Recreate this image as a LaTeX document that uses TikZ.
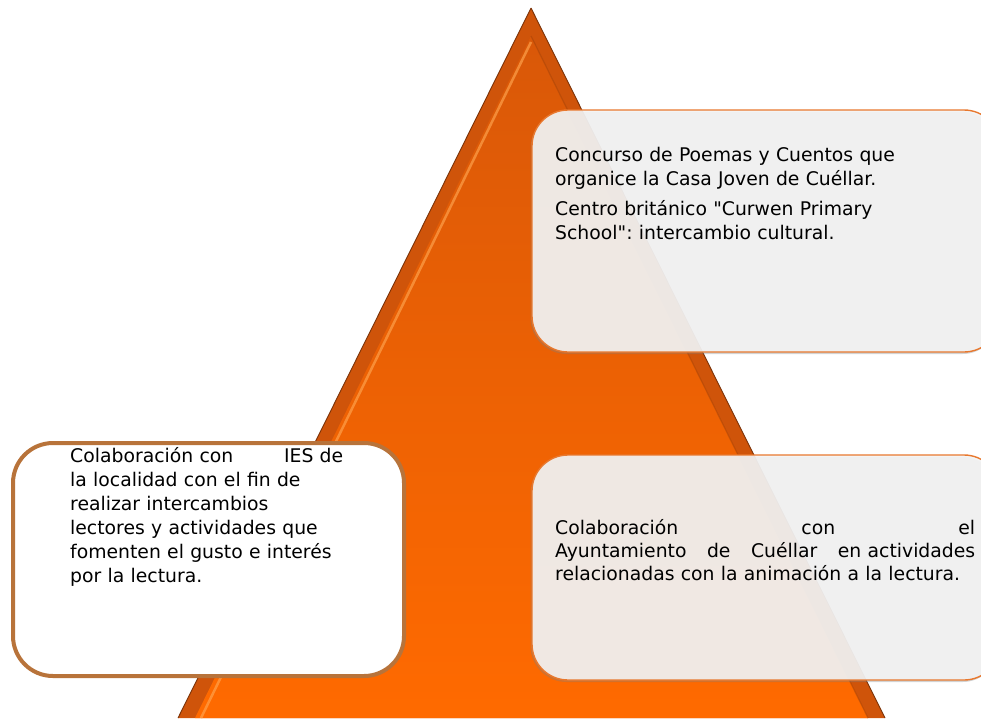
\documentclass[tikz,border=0pt]{standalone}
\usepackage{fontspec}
\newfontfamily\boxfont{DejaVu Sans}
\usetikzlibrary{shadows}
\definecolor{triedge}{HTML}{7A3208}
\definecolor{triband}{HTML}{CF540A}
\definecolor{tritop}{HTML}{D95808}
\definecolor{tribot}{HTML}{FF6A00}
\definecolor{trihi}{HTML}{FFA550}
\definecolor{boxfill}{HTML}{F3F3F3}
\definecolor{boxline}{HTML}{E8782E}
\definecolor{leftline}{HTML}{B8733A}
\frenchspacing
\tikzset{
  glassbox/.style={draw=boxline, line width=1.4pt, fill=boxfill, fill opacity=0.92,
    rounded corners=36pt, drop shadow={opacity=0.35, shadow xshift=-1.5pt, shadow yshift=-2pt}},
  whitebox/.style={draw=leftline, line width=4pt, fill=white, rounded corners=40pt},
  boxtext/.style={anchor=north west, inner sep=0pt, align=left, text=black,
    font=\boxfont\frenchspacing\fontsize{18.8}{24}\selectfont},
}
\begin{document}
\begin{tikzpicture}[x=1pt,y=-1pt]
\useasboundingbox (0,0) rectangle (981,718);
\clip (0,0) rectangle (981,718);
% pyramid
\coordinate (apex) at (531,8);
\coordinate (bl) at (178,718);
\coordinate (br) at (885,718);
\coordinate (iapex) at (531,36);
\coordinate (ibl) at (195,718);
\coordinate (ibr) at (868,718);
\fill[triband] (apex) -- (bl) -- (br) -- cycle;
\shade[top color=tritop, bottom color=tribot] (iapex) -- (ibl) -- (ibr) -- cycle;
\draw[trihi, line width=2.5pt, opacity=0.65] (531,42) -- (201,718);
\draw[triband!80!black, line width=1.2pt, opacity=0.5] (iapex) -- (ibr);
\draw[triedge, line width=0.9pt] (apex) -- (bl) (apex) -- (br);
% boxes
\path[glassbox] (532,110) rectangle (1000,352);
\node (topbox) at (766,231) {};
\path[glassbox] (532,455) rectangle (1000,680);
\node (botbox) at (766,567) {};
\path[whitebox] (13,443) rectangle (404,676);
\node (leftbox) at (208,560) {};
% texts
\node[boxtext, text width=400pt] (toptext) at (555,147) {%
Concurso de Poemas y Cuentos que\\
organice la Casa Joven de Cuéllar.\\[6pt]
Centro británico "Curwen Primary\\
School": intercambio cultural.};
\node[boxtext, text width=273pt] (lefttext) at (70,447.5) {%
\makebox[\linewidth][l]{Colaboración con\hfill IES de}\\
la localidad con el fin de\\
realizar intercambios\\
lectores y actividades que\\
fomenten el gusto e interés\\
por la lectura.};
\node[boxtext, text width=420pt, font=\boxfont\frenchspacing\fontsize{18.8}{23}\selectfont] (bottext) at (555,519.5) {%
\makebox[\linewidth][l]{Colaboración\hfill con\hfill el}\\
\makebox[\linewidth][l]{Ayuntamiento\hfill de\hfill Cuéllar\hfill en actividades}\\
relacionadas con la animación a la lectura.};
\end{tikzpicture}
\end{document}
